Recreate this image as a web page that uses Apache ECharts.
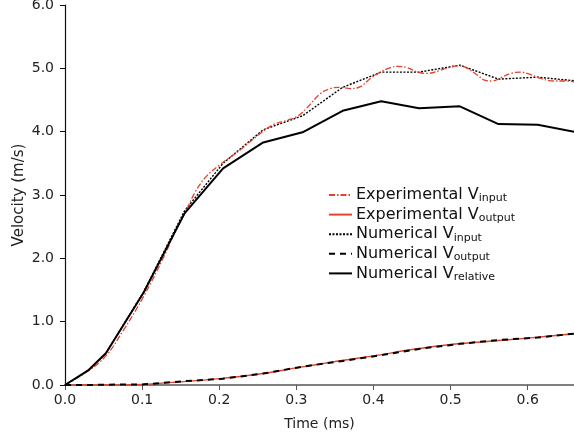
<!DOCTYPE html>
<html>
<head>
<meta charset="utf-8">
<script src="https://cdn.jsdelivr.net/npm/echarts@6/dist/echarts.min.js"></script>
<style>html,body{margin:0;padding:0;background:#fff}#c{width:574px;height:439px}</style>
</head>
<body>
<div id="c"></div>
<script>
// Numerical results (ms, m/s)
const timeNum = [0, 0.03, 0.053, 0.102, 0.155, 0.205, 0.257, 0.308, 0.360, 0.410, 0.459, 0.512, 0.562, 0.613, 0.664];
const numInput = [0, 0.23, 0.50, 1.47, 2.75, 3.50, 4.03, 4.25, 4.70, 4.94, 4.94, 5.05, 4.83, 4.86, 4.80];
const numOutput = [0, 0, 0.005, 0.01, 0.06, 0.10, 0.18, 0.29, 0.38, 0.47, 0.57, 0.65, 0.71, 0.75, 0.815];
const numRelative = [0, 0.23, 0.50, 1.46, 2.71, 3.42, 3.83, 3.99, 4.33, 4.48, 4.37, 4.40, 4.12, 4.11, 3.99];

// Experimental results
const timeExpIn = [0, 0.03, 0.053, 0.075, 0.102, 0.128, 0.144, 0.155, 0.169, 0.183, 0.201, 0.227, 0.253, 0.270, 0.288, 0.301, 0.314, 0.331, 0.344, 0.357, 0.370, 0.383, 0.396, 0.409, 0.422, 0.431, 0.444, 0.457, 0.470, 0.487, 0.500, 0.512, 0.522, 0.535, 0.545, 0.554, 0.565, 0.578, 0.591, 0.604, 0.617, 0.634, 0.647, 0.661];
const expInput = [0, 0.22, 0.46, 0.85, 1.40, 2.02, 2.45, 2.70, 3.05, 3.29, 3.48, 3.71, 3.97, 4.11, 4.18, 4.24, 4.38, 4.60, 4.68, 4.70, 4.68, 4.71, 4.84, 4.94, 5.01, 5.03, 5.01, 4.94, 4.92, 4.97, 5.02, 5.04, 5.00, 4.89, 4.81, 4.80, 4.85, 4.92, 4.94, 4.90, 4.84, 4.80, 4.80, 4.79];
const timeExpOut = [0, 0.05, 0.1, 0.15, 0.2, 0.25, 0.3, 0.35, 0.4, 0.45, 0.5, 0.55, 0.6, 0.66];
const expOutput = [0, 0.0, 0.01, 0.05, 0.10, 0.17, 0.27, 0.37, 0.46, 0.56, 0.64, 0.69, 0.74, 0.81];

// Axis ticks
const xTicks = [0.0, 0.1, 0.2, 0.3, 0.4, 0.5, 0.6];
const yTicks = [0.0, 1.0, 2.0, 3.0, 4.0, 5.0, 6.0];

const names = ['Experimental Vinput', 'Experimental Voutput', 'Numerical Vinput', 'Numerical Voutput', 'Numerical Vrelative'];
const legendMain = ['Experimental V', 'Experimental V', 'Numerical V', 'Numerical V', 'Numerical V'];
const legendSub = ['input', 'output', 'input', 'output', 'relative'];

const FONT = 'DejaVu Sans';
const RED = '#e3422c';
const zip = (t, v) => t.map((x, i) => [x, v[i]]);

const chart = echarts.init(document.getElementById('c'), null, {renderer: 'canvas'});
chart.setOption({
  animation: false,
  backgroundColor: '#fff',
  grid: {left: 65, right: 0, top: 5, bottom: 54, containLabel: false, outerBoundsMode: 'none'},
  legend: {
    orient: 'vertical',
    left: 323, top: 182,
    itemWidth: 23, itemHeight: 12, itemGap: 2.6,
    data: names,
    itemStyle: {color: 'rgba(0,0,0,0)', borderWidth: 0, opacity: 0},
    formatter: n => { const i = names.indexOf(n); return '{m|' + legendMain[i] + '}{s|' + legendSub[i] + '}'; },
    textStyle: {
      fontFamily: FONT, fontSize: 16, color: '#111', padding: [0,0,0,-1],
      rich: {
        m: {fontFamily: FONT, fontSize: 16, color: '#111', lineHeight: 18},
        s: {fontFamily: FONT, fontSize: 11, color: '#111', lineHeight: 10, verticalAlign: 'bottom'}
      }
    }
  },
  xAxis: {
    type: 'value', min: 0, max: 0.66, interval: 0.1,
    name: 'Time (ms)', nameLocation: 'middle', nameGap: 32, nameMoveOverlap: false,
    nameTextStyle: {fontFamily: FONT, fontSize: 14, color: '#222'},
    axisLine: {lineStyle: {color: '#555', width: 1.5}},
    axisTick: {inside: false, length: 5, lineStyle: {color: '#555'}},
    axisLabel: {fontFamily: FONT, fontSize: 14, color: '#222', margin: 8, showMaxLabel: false,
      formatter: v => xTicks.some(t => Math.abs(t - v) < 1e-6) ? v.toFixed(1) : ''},
    splitLine: {show: false}
  },
  yAxis: {
    type: 'value', min: 0, max: 6, interval: 1,
    name: 'Velocity (m/s)', nameLocation: 'middle', nameGap: 38, nameMoveOverlap: false,
    nameTextStyle: {fontFamily: FONT, fontSize: 15, color: '#222'},
    axisLine: {show: true, lineStyle: {color: '#111', width: 1.2}},
    axisTick: {show: true, inside: false, length: 5, lineStyle: {color: '#111'}},
    axisLabel: {fontFamily: FONT, fontSize: 14, color: '#222', margin: 11,
      formatter: v => yTicks.some(t => Math.abs(t - v) < 1e-6) ? v.toFixed(1) : ''},
    splitLine: {show: false}
  },
  series: [
    {name: names[1], type: 'line', symbol: 'none', smooth: 0.3, data: zip(timeExpOut, expOutput),
      lineStyle: {color: RED, width: 1.4, type: 'solid'}, itemStyle: {color: RED}, z: 2},
    {name: names[3], type: 'line', symbol: 'none', data: zip(timeNum, numOutput),
      lineStyle: {color: '#000', width: 2, type: [6, 5]}, itemStyle: {color: '#000'}, z: 3},
    {name: names[2], type: 'line', symbol: 'none', data: zip(timeNum, numInput),
      lineStyle: {color: '#000', width: 1.4, type: [2, 1.5]}, itemStyle: {color: '#000'}, z: 3},
    {name: names[0], type: 'line', symbol: 'none', smooth: 0.4, data: zip(timeExpIn, expInput),
      lineStyle: {color: RED, width: 1.3, type: [6, 2, 1.5, 2]}, itemStyle: {color: RED}, z: 4},
    {name: names[4], type: 'line', symbol: 'none', data: zip(timeNum, numRelative),
      lineStyle: {color: '#000', width: 2}, itemStyle: {color: '#000'}, z: 5}
  ]
});
</script>
</body>
</html>
